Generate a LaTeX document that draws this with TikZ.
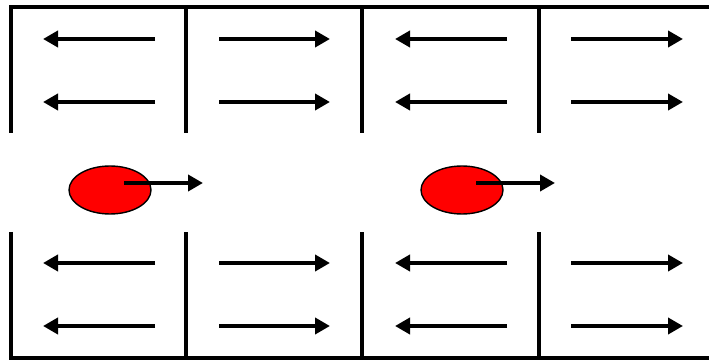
\documentclass[tikz,border=0pt]{standalone}
\usepackage{tikz}
\usetikzlibrary{arrows.meta}
\usetikzlibrary{shapes.geometric}
\begin{document}
\begin{tikzpicture}
    \useasboundingbox (0,0) rectangle (14.18,7.22);
    \tikzset{wall/.style={line width=2.3pt},
             flow/.style={line width=2.3pt,-{Triangle[length=3mm,width=3.2mm]}},
             ball/.style={ellipse,draw,fill=red,line width=0.8pt,minimum width=1.64cm,minimum height=0.96cm,inner sep=0pt}}
    % walls
    \begin{scope}[wall]
    \draw (0.22,4.56)--(0.22,7.08)--(14.18,7.08);
    \draw (3.72,7.08)--(3.72,4.56);
    \draw (7.24,7.08)--(7.24,4.56);
    \draw (10.78,7.08)--(10.78,4.56);
    \draw (0.22,2.58)--(0.22,0.06)--(14.18,0.06);
    \draw (3.72,0.06)--(3.72,2.58);
    \draw (7.24,0.06)--(7.24,2.58);
    \draw (10.78,0.06)--(10.78,2.58);
    \end{scope}
    % upper arrows
    \begin{scope}[flow]
    \draw (3.10,6.44)--(0.86,6.44);
    \draw (3.10,5.18)--(0.86,5.18);
    \draw (4.38,6.44)--(6.60,6.44);
    \draw (4.38,5.18)--(6.60,5.18);
    \draw (10.14,6.44)--(7.90,6.44);
    \draw (10.14,5.18)--(7.90,5.18);
    \draw (11.42,6.44)--(13.66,6.44);
    \draw (11.42,5.18)--(13.66,5.18);
    % lower arrows
    \draw (3.10,1.96)--(0.86,1.96);
    \draw (3.10,0.70)--(0.86,0.70);
    \draw (4.38,1.96)--(6.60,1.96);
    \draw (4.38,0.70)--(6.60,0.70);
    \draw (10.14,1.96)--(7.90,1.96);
    \draw (10.14,0.70)--(7.90,0.70);
    \draw (11.42,1.96)--(13.66,1.96);
    \draw (11.42,0.70)--(13.66,0.70);
    \end{scope}
    % balls
    \node[ball] (ballA) at (2.20,3.42) {};
    \node[ball] (ballB) at (9.24,3.42) {};
    \coordinate (tailA) at (2.48,3.56);
    \coordinate (headA) at (4.06,3.56);
    \coordinate (tailB) at (9.52,3.56);
    \coordinate (headB) at (11.10,3.56);
    \draw[flow] (tailA)--(headA);
    \draw[flow] (tailB)--(headB);
\end{tikzpicture}
\end{document}
